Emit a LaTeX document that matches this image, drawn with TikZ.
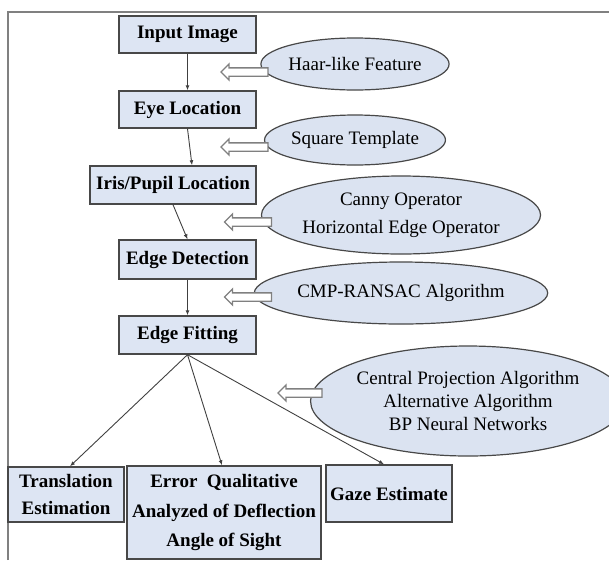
\documentclass[tikz,border=0pt]{standalone}
\usepackage{fontspec}
\setmainfont{Liberation Serif}
\usetikzlibrary{arrows.meta}
\usetikzlibrary{shapes.geometric}
\usetikzlibrary{shapes.arrows}

\definecolor{stagefill}{RGB}{221,229,243}
\definecolor{methodfill}{RGB}{219,227,241}
\definecolor{rimgray}{RGB}{72,72,72}

\tikzset{
  stage/.style={rectangle, draw=rimgray, line width=1.4pt, fill=stagefill, inner sep=0pt, align=center, font=\fontsize{19}{23}\selectfont\bfseries},
  method/.style={ellipse, draw=rimgray, line width=1.2pt, fill=methodfill, inner sep=0pt, align=center, font=\fontsize{19}{23}\selectfont},
  hint/.style={single arrow, shape border rotate=180, draw=gray, line width=1.3pt, fill=white, inner xsep=0pt, inner ysep=3.5pt, minimum height=47pt, single arrow head extend=4pt, single arrow head indent=0pt},
  flow/.style={draw=black!75, line width=0.9pt, -{Latex[length=5pt, width=4pt]}}
}

\begin{document}
\begin{tikzpicture}[x=1pt, y=-1pt]
    \useasboundingbox (0,0) rectangle (609,560);
    \draw[gray, line width=1.2pt] (8,560) -- (8,12) -- (609,12);

    \node[stage, minimum width=137pt, minimum height=37pt] (input) at (187.5,34.5) {Input Image};
    \node[stage, minimum width=137pt, minimum height=37pt] (eye) at (187.5,109.5) {Eye Location};
    \node[stage, minimum width=166pt, minimum height=38pt] (iris) at (173,185) {Iris/Pupil Location};
    \node[stage, minimum width=137pt, minimum height=39pt] (detect) at (187.5,259.5) {Edge Detection};
    \node[stage, minimum width=137pt, minimum height=38pt] (fit) at (187.5,335) {Edge Fitting};
    \node[stage, minimum width=116pt, minimum height=55pt, font=\fontsize{19}{27}\selectfont\bfseries] (trans) at (66,494.5) {Translation\\Estimation};
    \node[stage, minimum width=194pt, minimum height=93pt, font=\fontsize{19}{29.5}\selectfont\bfseries] (error) at (224,512.5) {Error~~Qualitative\\Analyzed of Deflection\\Angle of Sight};
    \node[stage, minimum width=126pt, minimum height=57pt] (gaze) at (389,493.5) {Gaze Estimate};

    \node[method, minimum width=152pt, minimum height=52pt] (haar) at (355,64) {Haar-like Feature};
    \node[method, minimum width=152pt, minimum height=50pt] (square) at (355,140) {Square Template};
    \node[method, minimum width=238pt, minimum height=78pt, font=\fontsize{19}{28}\selectfont] (canny) at (401,215) {Canny Operator\\Horizontal Edge Operator};
    \node[method, minimum width=238pt, minimum height=62pt] (ransac) at (401,293) {CMP-RANSAC Algorithm};
    \node[method, minimum width=274pt, minimum height=110pt] (central) at (468,401) {Central Projection Algorithm\\Alternative Algorithm\\BP Neural Networks};

    \node[hint] (h1) at (246.5,72) {};
    \node[hint] (h2) at (246.5,147) {};
    \node[hint] (h3) at (250,222) {};
    \node[hint] (h4) at (250,297) {};
    \node[hint, minimum height=44pt] (h5) at (302,393) {};

    \draw[flow] (input) -- (eye);
    \draw[flow] (eye.south) -- ([xshift=19pt]iris.north);
    \draw[flow] (iris.south) -- (detect.north);
    \draw[flow] (detect) -- (fit);
    \draw[flow] (fit.south) -- ([xshift=4pt]trans.north);
    \draw[flow] (fit.south) -- ([xshift=-2pt]error.north);
    \draw[flow] (fit.south) -- ([xshift=-5pt]gaze.north);
\end{tikzpicture}
\end{document}
